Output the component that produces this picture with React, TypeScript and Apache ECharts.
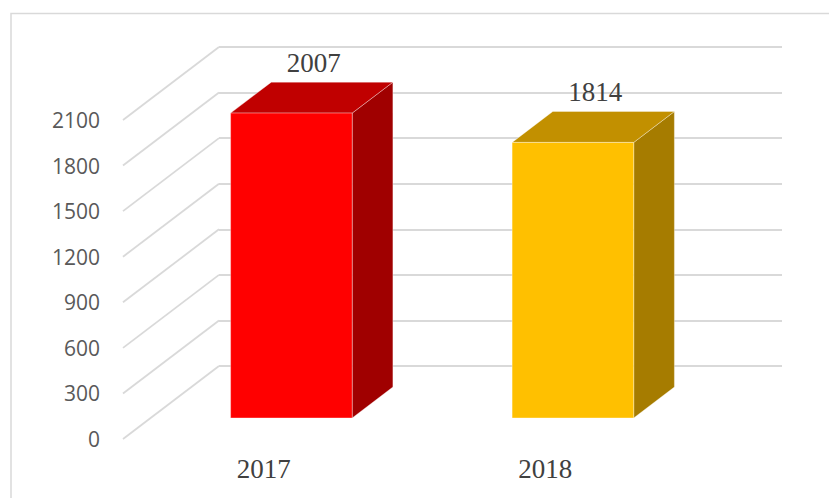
import React, { useEffect, useRef } from "react";
import * as echarts from "echarts";

// ---- data ----
const categories = ["2017", "2018"];
const values = [2007, 1814];
const yTicks = [0, 300, 600, 900, 1200, 1500, 1800, 2100];

// ---- styles ----
const palette = [
  { front: "#FF0000", top: "#C00000", side: "#A00000" },
  { front: "#FFC000", top: "#C29000", side: "#A67C00" },
];
const GRID_COLOR = "#D9D9D9";
const DX = -96; // depth shift (back wall -> front edge)
const DY = 73;
const FRONT_DEPTH = 0.712;
const BACK_DEPTH = 0.288;
const BAR_RATIO = 0.432;
const W = 829;
const H = 498;

export default function App() {
  const ref = useRef<HTMLDivElement>(null);
  useEffect(() => {
    if (!ref.current) return;
    const chart = echarts.init(ref.current, undefined, { renderer: "svg" });
    const yMin = yTicks[0];
    const yMax = yTicks[yTicks.length - 1];
    const yStep = yTicks[1] - yTicks[0];
    // back wall plane
    const back = { left: 219, right: W - 782, top: 47, bottom: H - 366 };
    // front edge plane
    const front = {
      left: back.left + DX,
      right: back.right - DX,
      top: back.top + DY,
      bottom: back.bottom - DY,
    };
    chart.setOption({
      animation: false,
      backgroundColor: "#FFFFFF",
      graphic: [
        {
          type: "rect",
          shape: { x: 11, y: 13.5, width: 1000, height: 1000 },
          style: { fill: "none", stroke: GRID_COLOR, lineWidth: 1.5 },
          z: 0,
        },
      ],
      grid: [
        { ...back, containLabel: false },
        { ...front, containLabel: false },
      ],
      xAxis: [
        {
          type: "category",
          gridIndex: 0,
          data: categories,
          boundaryGap: true,
          axisLine: { show: false },
          axisTick: { show: false },
          axisLabel: { show: false },
          splitLine: { show: false },
        },
        {
          type: "category",
          gridIndex: 1,
          data: categories,
          boundaryGap: true,
          axisLine: { show: false },
          axisTick: { show: false },
          splitLine: { show: false },
          axisLabel: {
            margin: 16,
            color: "#404040",
            fontFamily: "Liberation Serif",
            fontSize: 27,
          },
        },
      ],
      yAxis: [
        {
          type: "value",
          gridIndex: 0,
          min: yMin,
          max: yMax,
          interval: yStep,
          axisLine: { show: false },
          axisTick: { show: false },
          axisLabel: { show: false },
          splitLine: { show: true, lineStyle: { color: GRID_COLOR, width: 1.8 } },
        },
        {
          type: "value",
          gridIndex: 1,
          min: yMin,
          max: yMax,
          interval: yStep,
          axisLine: { show: false },
          axisTick: { show: false },
          splitLine: { show: false },
          axisLabel: {
            margin: 23,
            color: "#595959",
            fontFamily: "Open Sans",
            fontSize: 21,
            formatter: (v: number) => String(v),
          },
        },
      ],
      series: [
        {
          type: "custom",
          xAxisIndex: 0,
          yAxisIndex: 0,
          z: 1,
          silent: true,
          data: yTicks.map((t) => [0, t]),
          renderItem: (params: any, api: any) => {
            const y = api.coord([0, api.value(1)])[1];
            const x0 = params.coordSys.x;
            return {
              type: "line",
              shape: { x1: x0, y1: y, x2: x0 + DX, y2: y + DY },
              style: { stroke: GRID_COLOR, lineWidth: 1.8 },
            };
          },
        },
        {
          type: "custom",
          xAxisIndex: 0,
          yAxisIndex: 0,
          z: 5,
          data: values.map((v, i) => [i, v]),
          renderItem: (params: any, api: any) => {
            const idx = api.value(0);
            const v = api.value(1);
            const top = api.coord([idx, v]);
            const base = api.coord([idx, 0]);
            const half = (api.size([1, 0])[0] * BAR_RATIO) / 2;
            const c = palette[idx % palette.length];
            const p = (x: number, y: number, d: number) => [x + DX * d, y + DY * d];
            const ftl = p(top[0] - half, top[1], FRONT_DEPTH);
            const ftr = p(top[0] + half, top[1], FRONT_DEPTH);
            const fbr = p(base[0] + half, base[1], FRONT_DEPTH);
            const fbl = p(base[0] - half, base[1], FRONT_DEPTH);
            const btl = p(top[0] - half, top[1], BACK_DEPTH);
            const btr = p(top[0] + half, top[1], BACK_DEPTH);
            const bbr = p(base[0] + half, base[1], BACK_DEPTH);
            const edge = "rgba(255,255,255,0.35)";
            return {
              type: "group",
              children: [
                {
                  type: "polygon",
                  shape: { points: [ftr, btr, bbr, fbr] },
                  style: { fill: c.side, stroke: edge, lineWidth: 1 },
                },
                {
                  type: "polygon",
                  shape: { points: [ftl, ftr, btr, btl] },
                  style: { fill: c.top, stroke: edge, lineWidth: 1 },
                },
                {
                  type: "polygon",
                  shape: { points: [ftl, ftr, fbr, fbl] },
                  style: { fill: c.front, stroke: edge, lineWidth: 1 },
                },
                {
                  type: "text",
                  style: {
                    x: top[0] + DX * 0.5 + 2,
                    y: top[1] + 2,
                    text: String(values[idx]),
                    fill: "#404040",
                    font: "27px 'Liberation Serif'",
                    align: "center",
                    verticalAlign: "middle",
                  },
                },
              ],
            };
          },
        },
      ],
    });
    return () => chart.dispose();
  }, []);
  return (
    <div
      ref={ref}
      style={{ position: "fixed", left: 0, top: 0, width: W, height: H, background: "#fff" }}
    />
  );
}
